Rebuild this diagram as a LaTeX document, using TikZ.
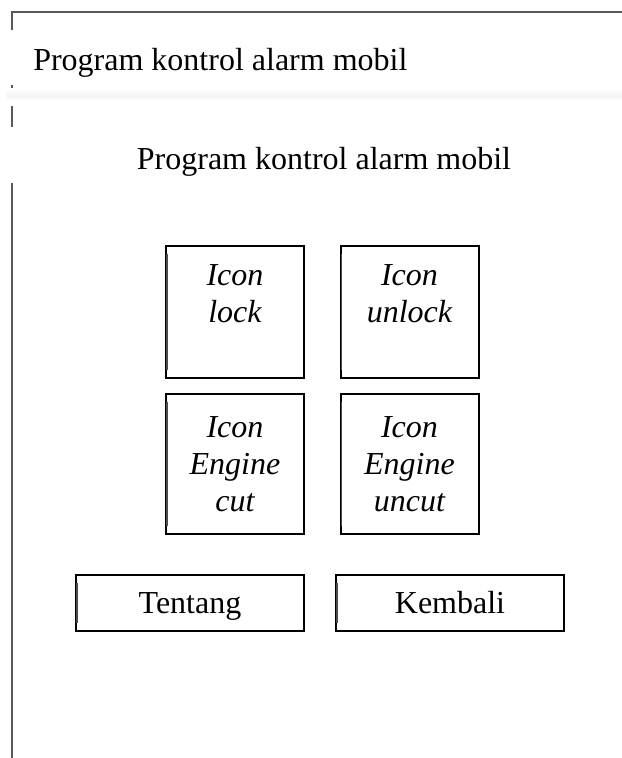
\documentclass[tikz,border=0pt]{standalone}
\usepackage{fontspec}
\setmainfont{Liberation Serif}
\tikzset{
 iconbox/.style={draw, line width=1.5pt, minimum width=103.5pt, inner sep=0pt, align=center, font=\fontsize{24}{27.75}\selectfont\itshape},
 btnbox/.style={draw, line width=1.5pt, minimum width=171pt, minimum height=42pt, text height=15.9pt, text depth=0pt, font=\fontsize{24}{28}\selectfont},
 frameline/.style={draw=black!65, line width=1.2pt}
}
\begin{document}
\begin{tikzpicture}[x=0.75pt, y=-0.75pt, line join=miter]
 \useasboundingbox (0,0) rectangle (622,758);
 % window frame
 \shade[top color=white, bottom color=white, middle color=black!4] (6,89) rectangle (622,101);
 \draw[frameline] (12,30)--(12,12)--(622,12);
 \foreach \ya/\yb in {85/88, 106/127, 183/758}
 \draw[frameline] (12,\ya)--(12,\yb);
 \node[anchor=base west, inner sep=0pt, font=\fontsize{24}{28}\selectfont] (judul) at (33,70) {Program kontrol alarm mobil};
 \node[anchor=base, inner sep=0pt, font=\fontsize{24}{28}\selectfont] (subjudul) at (324,169) {Program kontrol alarm mobil};
 % icons
 \node[iconbox, minimum height=99pt] (lock) at (235,312) {Icon\\lock\\\mbox{}};
 \node[iconbox, minimum height=99pt] (unlock) at (409.5,312) {Icon\\unlock\\\mbox{}};
 \node[iconbox, minimum height=105pt] (cut) at (235,464) {Icon\\Engine\\cut};
 \node[iconbox, minimum height=105pt] (uncut) at (409.5,464) {Icon\\Engine\\uncut};
 % buttons
 \node[btnbox] (tentang) at (190,603) {Tentang};
 \node[btnbox] (kembali) at (450,603) {Kembali};
 \foreach \n in {lock,unlock,cut,uncut,tentang,kembali}
 \draw[black!70, line width=1.2pt] ([xshift=1.6pt,yshift=-7pt]\n.north west)--([xshift=1.6pt,yshift=7pt]\n.south west);
\end{tikzpicture}
\end{document}
